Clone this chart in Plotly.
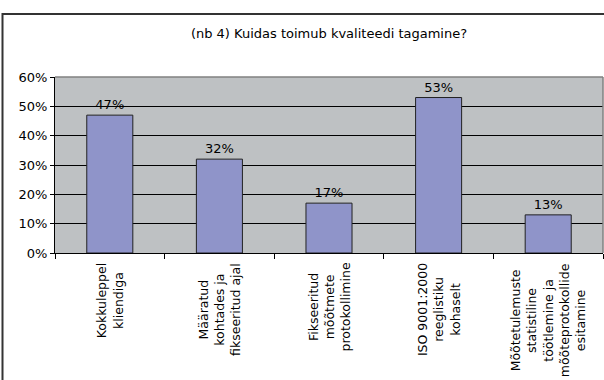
import plotly.graph_objects as go

categories = [
    "Kokkuleppel<br>kliendiga",
    "Määratud<br>kohtades ja<br>fikseeritud ajal",
    "Fikseeritud<br>mõõtmete<br>protokollimine",
    "ISO 9001:2000<br>reeglistiku<br>kohaselt",
    "Mõõtetulemuste<br>statistiline<br>töötlemine ja<br>mõõteprotokollide<br>esitamine",
]
values = [0.47, 0.32, 0.17, 0.53, 0.13]
title_text = "(nb 4) Kuidas toimub kvaliteedi tagamine?"

FONT = "DejaVu Sans"
BAR_COLOR = "#8F94C9"
BG = "#BEC1C3"

fig = go.Figure()
fig.add_trace(go.Bar(
    x=categories, y=values, width=0.42,
    marker=dict(color=BAR_COLOR, line=dict(color="#222222", width=1)),
    text=[f"{v*100:.0f}%" for v in values],
    textposition="outside",
    textfont=dict(family=FONT, size=13, color="black"),
    cliponaxis=False,
))

for c in categories:
    fig.add_annotation(
        x=c, xref="x", y=0, yref="paper", yanchor="top", xanchor="center",
        yshift=-8, text=c, textangle=-90, align="center", showarrow=False,
        font=dict(family=FONT, size=12.5, color="black"),
    )

L, R, T, B = 55, 1, 77, 127
W, H = 604, 380
pw, ph = W - L - R, H - T - B

# outer frame
fig.add_shape(type="rect", xref="paper", yref="paper",
              x0=(2.5 - L) / pw, x1=(608 - L) / pw,
              y0=(H - B - 384) / ph, y1=(H - B - 14) / ph,
              line=dict(color="#333333", width=2), layer="above")
# plot area top & right border (gray)
fig.add_shape(type="line", xref="paper", yref="paper", x0=0, x1=1, y0=1, y1=1,
              line=dict(color="#808080", width=1.5), layer="above")
fig.add_shape(type="line", xref="paper", yref="paper", x0=1, x1=1, y0=0, y1=1,
              line=dict(color="#808080", width=1.5), layer="above")

fig.update_layout(
    width=W, height=H,
    margin=dict(l=L, r=R, t=T, b=B),
    paper_bgcolor="white", plot_bgcolor=BG,
    showlegend=False,
    title=dict(text=title_text, x=0.5, xref="paper", xanchor="center",
               y=(H - 33) / H, yanchor="middle",
               font=dict(family=FONT, size=13, color="black")),
    font=dict(family=FONT, size=13, color="black"),
    bargap=0.58,
)
fig.update_xaxes(
    showticklabels=False, showgrid=False, showline=True, linecolor="black",
    linewidth=1, ticks="outside", tickson="boundaries", ticklen=5,
    tickcolor="black", zeroline=False,
)
fig.update_yaxes(
    range=[0, 0.6], dtick=0.1, tickformat=".0%", showgrid=True,
    gridcolor="black", gridwidth=1, showline=True, linecolor="black",
    linewidth=1, ticks="outside", ticklen=4, tickcolor="black",
    zeroline=False, tickfont=dict(family=FONT, size=13, color="black"),
)

fig.write_html(
    "out.html",
    config={"displayModeBar": False},
    post_script="document.body.style.margin='0';document.body.style.overflow='hidden';",
)
